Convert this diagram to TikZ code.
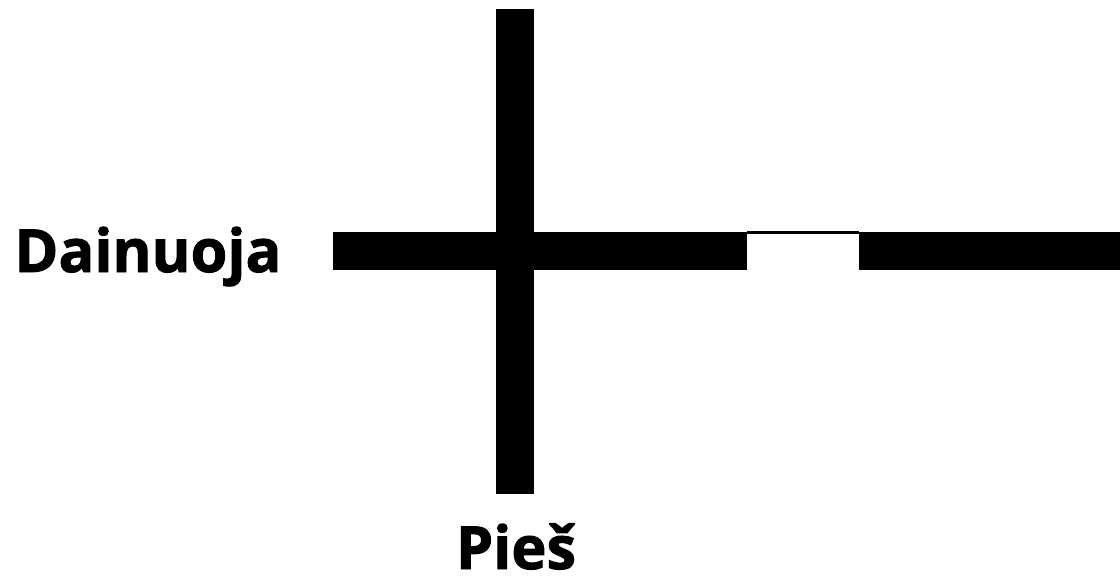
\documentclass[tikz,border=0pt]{standalone}
\usepackage{fontspec}
\setmainfont{Open Sans}
\newfontfamily\heavyfont{Open Sans Bold}[FakeBold=1.6]
\usetikzlibrary{positioning}

\begin{document}
\begin{tikzpicture}[
    x=0.01cm, y=-0.01cm,
    bar/.style={line width=10.8pt, black},
    thinline/.style={line width=0.6pt, black},
    lbl/.style={font=\heavyfont\fontsize{16.9}{18}\selectfont, inner sep=0pt, anchor=base},
  ]
    \useasboundingbox (0,0) rectangle (1120,578);
    % axes
    \coordinate (vtop) at (515,9);
    \coordinate (vbot) at (515,494);
    \coordinate (hl) at (333,251);
    \coordinate (hm1) at (747,251);
    \coordinate (hm2) at (859,251);
    \coordinate (hr) at (1120,251);
    \draw[bar] (vtop) -- (vbot);
    \draw[bar] (hl) -- (hm1);
    \draw[bar] (hm2) -- (hr);
    \coordinate (gl) at (747,232.5);
    \coordinate (gr) at (859,232.5);
    \draw[thinline] (gl) -- (gr);
    % labels
    \node[lbl] (dain) at (148,272) {Dainuoja};
    \node[lbl] (pies) at (516,569) {Pieš};
\end{tikzpicture}
\end{document}
